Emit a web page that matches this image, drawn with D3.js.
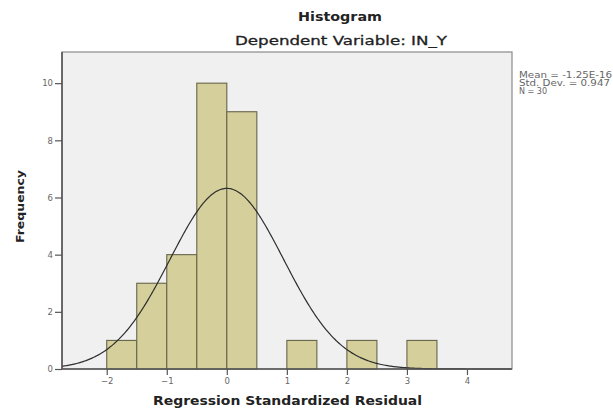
<!DOCTYPE html>
<html>
<head>
<meta charset="utf-8">
<script src="https://cdn.jsdelivr.net/npm/d3@7"></script>
<style>
  body { margin: 0; background: #fff; }
  text { font-family: "DejaVu Sans", sans-serif; }
</style>
</head>
<body>
<div id="chart"></div>
<script>
// histogram bins (lower edge, width 0.5) and counts
const binStarts = [-2, -1.5, -1, -0.5, 0, 1, 2, 3]
const binCounts = [1, 3, 4, 10, 9, 1, 1, 1]
const binWidth = 0.5
const xTicks = [-2, -1, 0, 1, 2, 3, 4]
const yTicks = [0, 2, 4, 6, 8, 10]
// stats shown in the box on the right
const statMean = -1.25e-16
const statSd = 0.947
const statN = 30
const statLines = ["Mean = -1.25E-16", "Std. Dev. = 0.947", "N = 30"]

const width = 613, height = 410
const margin = {top: 52, right: 101, bottom: 41, left: 62}

const svg = d3.select("#chart").append("svg")
    .attr("width", width)
    .attr("height", height)

const x = d3.scaleLinear()
    .domain([-2.745, 4.75])
    .range([margin.left, width - margin.right])

const y = d3.scaleLinear()
    .domain([0, 11.09])
    .range([height - margin.bottom, margin.top])

// plot background
svg.append("rect")
    .attr("x", margin.left)
    .attr("y", margin.top)
    .attr("width", width - margin.right - margin.left)
    .attr("height", height - margin.bottom - margin.top)
    .attr("fill", "#f0f0f0")
    .attr("stroke", "#8a8a8a")
    .attr("stroke-width", 1.2)

// bars
svg.append("g")
    .selectAll("rect")
    .data(binStarts.map((s, i) => ({start: s, count: binCounts[i]})))
    .join("rect")
    .attr("x", d => x(d.start))
    .attr("y", d => y(d.count))
    .attr("width", d => x(d.start + binWidth) - x(d.start))
    .attr("height", d => y(0) - y(d.count))
    .attr("fill", "#d5cf9b")
    .attr("stroke", "#66654a")
    .attr("stroke-width", 1.1)

// normal curve from the stats
const curvePts = d3.range(-2.745, 4.751, 0.02).map(v => {
    const z = (v - statMean) / statSd
    return [v, statN * binWidth * Math.exp(-0.5 * z * z) / (statSd * Math.sqrt(2 * Math.PI))]
})
svg.append("path")
    .datum(curvePts)
    .attr("fill", "none")
    .attr("stroke", "#2e2e2e")
    .attr("stroke-width", 1.2)
    .attr("d", d3.line().x(d => x(d[0])).y(d => y(d[1])))

// axes
const xAxis = svg.append("g")
    .attr("transform", `translate(0,${y(0)})`)
    .call(d3.axisBottom(x).tickValues(xTicks).tickSize(6).tickPadding(3).tickSizeOuter(0))
const yAxis = svg.append("g")
    .attr("transform", `translate(${margin.left},0)`)
    .call(d3.axisLeft(y).tickValues(yTicks).tickSize(7).tickPadding(2).tickSizeOuter(0))

;[xAxis, yAxis].forEach(a => {
    a.select(".domain").attr("stroke", "#555").attr("stroke-width", 1.6)
    a.selectAll(".tick line").attr("stroke", "#555").attr("stroke-width", 1.2)
    a.selectAll(".tick text").attr("fill", "#666").style("font-size", "8.5px")
})
xAxis.select(".domain").attr("d", `M${margin.left},0H${width - margin.right}`)
yAxis.select(".domain").attr("d", `M0,${margin.top}V${y(0)}`)

// titles
svg.append("text")
    .attr("x", 298).attr("y", 21)
    .attr("textLength", 84).attr("lengthAdjust", "spacingAndGlyphs")
    .style("font-size", "13px").style("font-weight", "bold")
    .attr("fill", "#222")
    .text("Histogram")
svg.append("text")
    .attr("x", 235).attr("y", 45)
    .attr("textLength", 212).attr("lengthAdjust", "spacingAndGlyphs")
    .style("font-size", "12.5px")
    .attr("fill", "#222")
    .attr("stroke", "#222").attr("stroke-width", 0.3)
    .text("Dependent Variable: IN_Y")

svg.append("text")
    .attr("x", 153).attr("y", 405)
    .attr("textLength", 269).attr("lengthAdjust", "spacingAndGlyphs")
    .style("font-size", "13px").style("font-weight", "bold")
    .attr("fill", "#222")
    .text("Regression Standardized Residual")

svg.append("text")
    .attr("transform", "translate(24,243) rotate(-90)")
    .attr("textLength", 73).attr("lengthAdjust", "spacingAndGlyphs")
    .style("font-size", "11px").style("font-weight", "bold")
    .attr("fill", "#222")
    .text("Frequency")

// stats box text
svg.append("g")
    .selectAll("text")
    .data(statLines)
    .join("text")
    .attr("x", 519)
    .attr("y", (d, i) => 78 + i * 8)
    .attr("textLength", (d, i) => [93, 91, 28][i])
    .attr("lengthAdjust", "spacingAndGlyphs")
    .style("font-size", "8px")
    .attr("fill", "#666")
    .text(d => d)
</script>
</body>
</html>
